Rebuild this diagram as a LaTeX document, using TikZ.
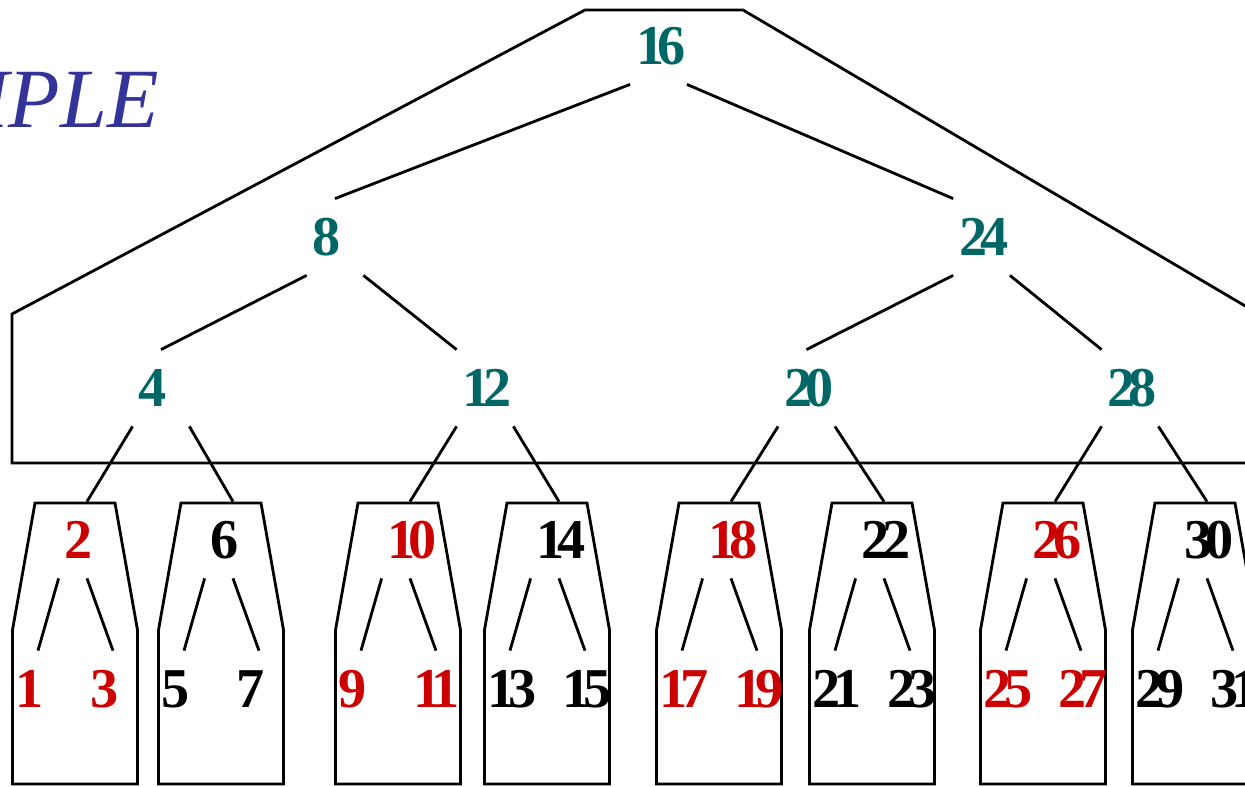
\documentclass[tikz,border=0pt]{standalone}
\usepackage{fontspec}
\setmainfont{Liberation Serif}
\newfontfamily\digitfont[LetterSpace=-12]{Liberation Serif Bold}
\usepackage{xcolor}
\usepackage{tikz}
\definecolor{keyteal}{RGB}{0,102,102}
\definecolor{leafred}{RGB}{204,0,0}
\definecolor{titleblue}{RGB}{51,51,153}
\tikzset{
    keynode/.style={rectangle, inner xsep=0.09cm, inner ysep=0pt, text width=0.9cm, align=left, minimum height=1.48cm, text=keyteal, font=\digitfont\fontsize{32}{34}\selectfont},
    redkey/.style={keynode, text=leafred},
    blackkey/.style={keynode, text=black},
    bucket/.style={line join=miter},
    title/.style={text=titleblue, inner sep=0pt, font=\itshape\fontsize{48}{50}\selectfont}
}
\begin{document}
\begin{tikzpicture}[x=0.02cm, y=-0.02cm, line width=1.6pt]
    \useasboundingbox (0,0) rectangle (1245,787);
    \clip (0,0) rectangle (1245,787);

    % Heading
    \node[title, anchor=base east] (head) at (160,128) {EXAMPLE};

    % Outline of the upper tree
    \draw[line join=miter] (12,463) -- (12,314) -- (585,10) -- (743,10) -- (1308,343) -- (1308,463) -- cycle;

    % Upper tree
    \node[keynode] (n16) at (658.5,46) {16};
    \node[keynode] (n8) at (335,237) {8};
    \node[keynode] (n24) at (981.5,237) {24};
    \node[keynode] (n4) at (161,388) {4};
    \node[keynode] (n12) at (485,388) {12};
    \node[keynode] (n20) at (806.5,388) {20};
    \node[keynode] (n28) at (1130,388) {28};

    \draw (n16.south west) -- (n8.north);
    \draw (n16.south east) -- (n24.north west);
    \draw (n8.south west) -- (n4.north);
    \draw (n8.south east) -- (n12.north west);
    \draw (n24.south west) -- (n20.north);
    \draw (n24.south east) -- (n28.north west);

    % Leaf blocks
    \draw[bucket, shift={(75,0)}] (-40,503) -- (40,503) -- (62.5,630) -- (62.5,784) -- (-62.5,784) -- (-62.5,630) -- cycle;
    \draw[bucket, shift={(221,0)}] (-40,503) -- (40,503) -- (62.5,630) -- (62.5,784) -- (-62.5,784) -- (-62.5,630) -- cycle;
    \draw[bucket, shift={(398,0)}] (-40,503) -- (40,503) -- (62.5,630) -- (62.5,784) -- (-62.5,784) -- (-62.5,630) -- cycle;
    \draw[bucket, shift={(547,0)}] (-40,503) -- (40,503) -- (62.5,630) -- (62.5,784) -- (-62.5,784) -- (-62.5,630) -- cycle;
    \draw[bucket, shift={(719,0)}] (-40,503) -- (40,503) -- (62.5,630) -- (62.5,784) -- (-62.5,784) -- (-62.5,630) -- cycle;
    \draw[bucket, shift={(872,0)}] (-40,503) -- (40,503) -- (62.5,630) -- (62.5,784) -- (-62.5,784) -- (-62.5,630) -- cycle;
    \draw[bucket, shift={(1043,0)}] (-40,503) -- (40,503) -- (62.5,630) -- (62.5,784) -- (-62.5,784) -- (-62.5,630) -- cycle;
    \draw[bucket, shift={(1195,0)}] (-40,503) -- (40,503) -- (62.5,630) -- (62.5,784) -- (-62.5,784) -- (-62.5,630) -- cycle;

    % Small trees inside the blocks
    \node[redkey] (b2) at (87,540) {2};
    \node[redkey] (b1) at (38,689) {1};
    \node[redkey] (b3) at (113,689) {3};
    \node[blackkey] (b6) at (233,540) {6};
    \node[blackkey] (b5) at (184,689) {5};
    \node[blackkey] (b7) at (259,689) {7};
    \node[redkey] (b10) at (410,540) {10};
    \node[redkey] (b9) at (361,689) {9};
    \node[redkey] (b11) at (436,689) {11};
    \node[blackkey] (b14) at (559,540) {14};
    \node[blackkey] (b13) at (510,689) {13};
    \node[blackkey] (b15) at (585,689) {15};
    \node[redkey] (b18) at (731,540) {18};
    \node[redkey] (b17) at (682,689) {17};
    \node[redkey] (b19) at (757,689) {19};
    \node[blackkey] (b22) at (884,540) {22};
    \node[blackkey] (b21) at (835,689) {21};
    \node[blackkey] (b23) at (910,689) {23};
    \node[redkey] (b26) at (1055,540) {26};
    \node[redkey] (b25) at (1006,689) {25};
    \node[redkey] (b27) at (1081,689) {27};
    \node[blackkey] (b30) at (1207,540) {30};
    \node[blackkey] (b29) at (1158,689) {29};
    \node[blackkey] (b31) at (1233,689) {31};

    \draw (b2.south west) -- (b1.north);
    \draw (b2.south) -- (b3.north);
    \draw (b6.south west) -- (b5.north);
    \draw (b6.south) -- (b7.north);
    \draw (b10.south west) -- (b9.north);
    \draw (b10.south) -- (b11.north);
    \draw (b14.south west) -- (b13.north);
    \draw (b14.south) -- (b15.north);
    \draw (b18.south west) -- (b17.north);
    \draw (b18.south) -- (b19.north);
    \draw (b22.south west) -- (b21.north);
    \draw (b22.south) -- (b23.north);
    \draw (b26.south west) -- (b25.north);
    \draw (b26.south) -- (b27.north);
    \draw (b30.south west) -- (b29.north);
    \draw (b30.south) -- (b31.north);

    % Upper tree down to the blocks
    \draw (n4.south west) -- (b2.north);
    \draw (n4.south east) -- (b6.north);
    \draw (n12.south west) -- (b10.north);
    \draw (n12.south east) -- (b14.north);
    \draw (n20.south west) -- (b18.north);
    \draw (n20.south east) -- (b22.north);
    \draw (n28.south west) -- (b26.north);
    \draw (n28.south east) -- (b30.north);
\end{tikzpicture}
\end{document}
